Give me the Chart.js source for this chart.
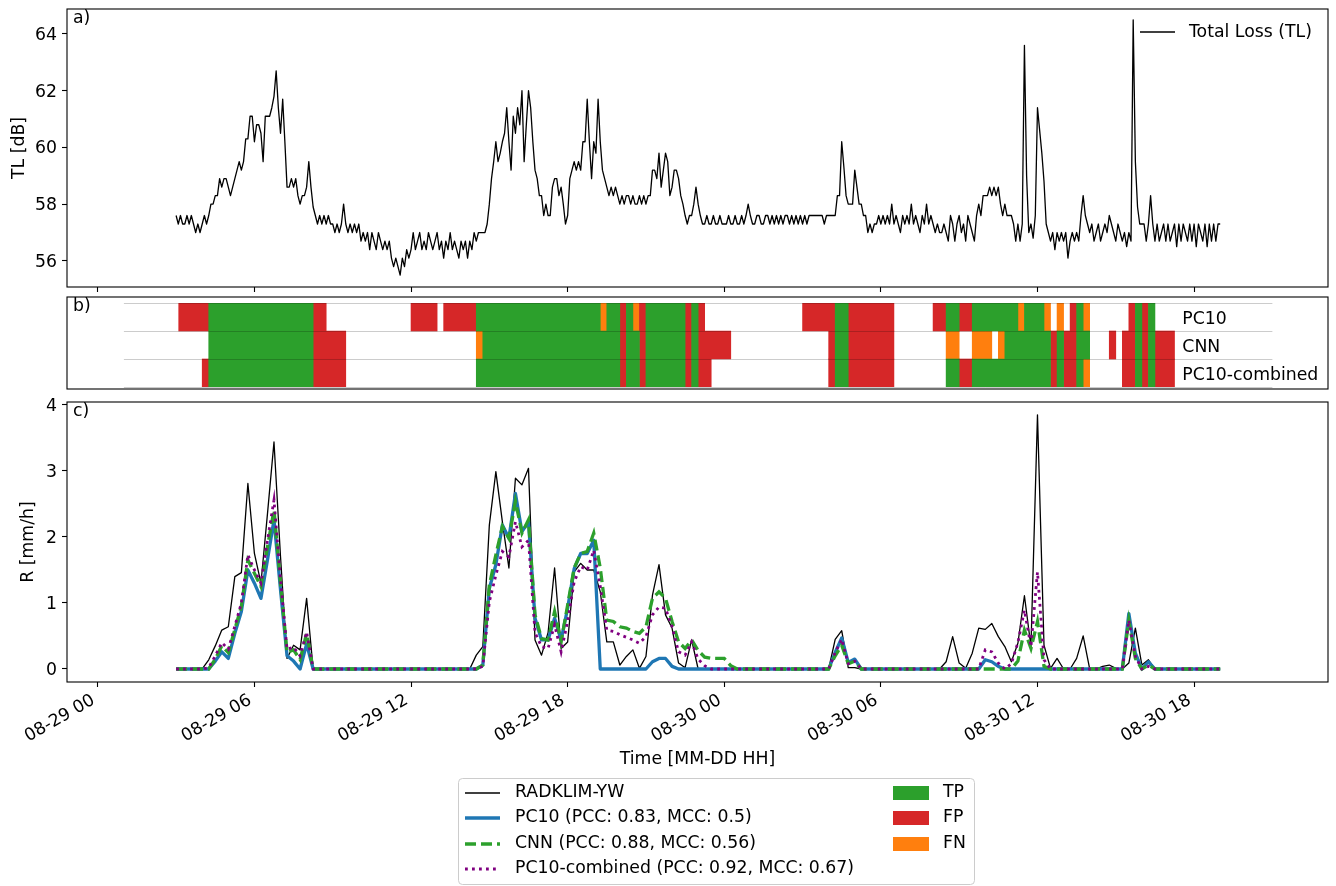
<!DOCTYPE html>
<html>
<head>
<meta charset="utf-8">
<title>TL, classification and rain rate</title>
<script src="https://cdn.jsdelivr.net/npm/chart.js@4.4.1/dist/chart.umd.min.js"></script>
<style>
  html, body { margin: 0; padding: 0; background: #fff; }
  #wrap { position: relative; width: 1336px; height: 886px; overflow: hidden; }
  #wrap canvas { position: absolute; left: 0; top: 0; }
  #chart-tl { top: -50px !important; }
</style>
</head>
<body>
<div id="wrap">
  <canvas id="chart-tl" width="1336" height="936"></canvas>
  <canvas id="chart-class" width="1336" height="886"></canvas>
  <canvas id="chart-rain" width="1336" height="886"></canvas>
</div>
<script>
// Hours since 08-29 00:00 on the shared time axis
const FONT = "'DejaVu Sans', sans-serif";
const FONT_SIZE = 17.3;

const xMin = -1.18;
const xMax = 47.13;
const xTickLabels = ["08-29 00", "08-29 06", "08-29 12", "08-29 18",
                     "08-30 00", "08-30 06", "08-30 12", "08-30 18"];

// a) total loss, 5 min samples starting 08-29 03:00
const tlStartHour = 3;
const tlStepMinutes = 5;
const totalLoss = [
  57.6, 57.3, 57.6, 57.3, 57.3, 57.6, 57.3, 57.6, 57.3, 57.0, 57.3, 57.0,
  57.3, 57.6, 57.3, 57.6, 58.0, 58.0, 58.3, 58.3, 58.9, 58.6, 58.9, 58.9,
  58.6, 58.3, 58.6, 58.9, 59.2, 59.5, 59.2, 59.5, 60.3, 60.3, 61.1, 61.1,
  60.2, 60.8, 60.8, 60.5, 59.5, 61.1, 61.1, 61.1, 61.4, 61.8, 62.7, 61.4,
  60.5, 61.7, 60.2, 58.6, 58.6, 58.9, 58.6, 58.9, 58.3, 58.0, 58.3, 58.3,
  58.6, 59.5, 58.6, 57.9, 57.6, 57.3, 57.6, 57.3, 57.6, 57.3, 57.6, 57.3,
  57.3, 57.0, 57.3, 57.0, 57.3, 58.0, 57.3, 57.0, 57.3, 57.0, 57.3, 57.0,
  57.3, 56.7, 57.0, 56.7, 57.0, 56.4, 57.0, 56.7, 56.4, 57.0, 56.7, 56.4,
  56.7, 56.4, 56.7, 56.1, 55.8, 56.1, 55.8, 55.5, 56.1, 55.8, 56.4, 56.1,
  56.4, 57.0, 56.4, 56.7, 57.0, 56.4, 56.7, 56.4, 57.0, 56.7, 56.4, 56.7,
  57.0, 56.4, 56.7, 56.1, 56.7, 56.4, 57.0, 56.4, 56.7, 56.4, 56.1, 56.7,
  56.4, 56.7, 56.1, 56.7, 56.4, 57.0, 56.7, 57.0, 57.0, 57.0, 57.0, 57.3,
  58.0, 58.9, 59.5, 60.2, 59.5, 59.8, 60.2, 60.5, 61.4, 60.2, 59.2, 61.1,
  60.5, 61.4, 60.8, 62.0, 59.5, 60.8, 62.0, 61.4, 60.2, 59.2, 58.9, 58.3,
  58.3, 57.6, 58.0, 57.6, 57.6, 58.6, 58.9, 58.9, 58.3, 58.6, 58.0, 57.3,
  57.6, 58.9, 59.2, 59.5, 59.2, 59.5, 59.2, 60.2, 60.2, 61.7, 60.2, 58.9,
  60.2, 59.8, 61.7, 60.2, 59.2, 58.9, 58.6, 58.3, 58.6, 58.3, 58.6, 58.3,
  58.0, 58.3, 58.0, 58.3, 58.3, 58.0, 58.3, 58.0, 58.0, 58.3, 58.0, 58.3,
  58.0, 58.3, 58.3, 59.2, 59.2, 58.9, 59.8, 58.6, 59.2, 59.8, 59.5, 58.3,
  58.6, 59.2, 59.2, 58.9, 58.3, 58.0, 57.6, 57.3, 57.6, 57.6, 58.0, 58.6,
  58.0, 57.6, 57.3, 57.3, 57.6, 57.3, 57.3, 57.6, 57.3, 57.3, 57.6, 57.3,
  57.3, 57.3, 57.6, 57.3, 57.3, 57.6, 57.3, 57.3, 57.6, 57.3, 57.6, 58.0,
  57.6, 57.3, 57.3, 57.6, 57.6, 57.3, 57.3, 57.6, 57.6, 57.3, 57.6, 57.3,
  57.6, 57.3, 57.6, 57.3, 57.6, 57.6, 57.3, 57.6, 57.3, 57.6, 57.3, 57.6,
  57.3, 57.6, 57.3, 57.6, 57.6, 57.6, 57.6, 57.6, 57.6, 57.6, 57.3, 57.6,
  57.6, 57.6, 57.6, 57.6, 58.3, 58.3, 60.2, 59.3, 58.3, 58.0, 58.0, 58.0,
  59.2, 58.6, 58.0, 58.0, 57.6, 57.6, 57.0, 57.3, 57.0, 57.3, 57.3, 57.6,
  57.3, 57.6, 57.3, 57.6, 57.3, 58.0, 57.3, 57.6, 57.3, 57.0, 57.6, 57.3,
  57.6, 57.3, 58.0, 57.3, 57.6, 57.3, 57.0, 57.6, 57.3, 58.0, 57.3, 57.6,
  57.3, 57.0, 57.3, 57.0, 57.0, 57.3, 57.0, 56.7, 57.6, 57.3, 56.7, 57.3,
  57.6, 57.0, 57.3, 56.7, 57.6, 57.3, 57.0, 56.7, 57.6, 58.0, 57.6, 58.3,
  58.3, 58.3, 58.6, 58.3, 58.6, 58.3, 58.6, 58.0, 57.6, 58.0, 57.6, 57.6,
  57.6, 57.3, 56.7, 57.3, 56.7, 57.3, 63.6, 59.0, 57.0, 57.3, 56.8, 57.6,
  61.4, 60.6, 59.8, 58.8, 57.3, 57.0, 56.7, 57.0, 56.4, 57.0, 56.7, 57.0,
  56.7, 57.0, 56.1, 56.7, 57.0, 56.7, 57.0, 56.7, 57.6, 58.3, 57.6, 57.3,
  57.0, 57.3, 56.7, 57.0, 57.3, 56.7, 57.0, 57.3, 57.0, 57.6, 57.3, 57.0,
  56.7, 57.3, 57.0, 56.7, 57.0, 56.5, 57.0, 56.7, 64.5, 59.5, 57.9, 57.3,
  57.3, 57.3, 56.7, 57.3, 58.3, 57.3, 56.7, 57.3, 56.7, 57.0, 57.3, 56.7,
  57.3, 56.7, 57.0, 57.3, 56.5, 57.3, 56.7, 57.3, 57.0, 56.7, 57.3, 56.7,
  57.3, 56.5, 57.3, 57.0, 56.7, 57.3, 56.5, 57.3, 56.7, 57.3, 56.7, 57.3,
  57.3
];

// c) rain rates, 15 min samples starting 08-29 03:00 (one row = one hour)
const rainStartHour = 3;
const rainStepMinutes = 15;
const radklim = [
  0, 0, 0, 0,           0, 0.14, 0.35, 0.59,   0.64, 1.40, 1.46, 2.81,
  1.75, 1.30, 2.35, 3.44, 1.70, 0.16, 0.36, 0.29, 1.07, 0, 0, 0,
  0, 0, 0, 0,           0, 0, 0, 0,           0, 0, 0, 0,
  0, 0, 0, 0,           0, 0, 0, 0,           0, 0, 0.21, 0.34,
  2.18, 2.99, 2.23, 1.53, 2.89, 2.79, 3.04, 0.44, 0.21, 0.55, 1.53, 0.31,
  0.41, 1.47, 1.60, 1.50, 1.50, 1.17, 0.41, 0.41, 0.06, 0.19, 0.29, 0.01,
  0.19, 1.12, 1.58, 0.82, 0.62, 0.09, 0.02, 0.44, 0, 0, 0, 0,
  0, 0, 0, 0,           0, 0, 0, 0,           0, 0, 0, 0,
  0, 0, 0, 0,           0, 0.45, 0.58, 0.02,   0.02, 0, 0, 0,
  0, 0, 0, 0,           0, 0, 0, 0,           0, 0, 0.11, 0.49,
  0.09, 0.01, 0.24, 0.62, 0.60, 0.69, 0.49, 0.34, 0.11, 0.39, 1.11, 0.34,
  3.85, 0.36, 0.01, 0.16, 0, 0, 0.16, 0.50,   0, 0, 0.04, 0.06,
  0.01, 0, 0.09, 0.62,  0.06, 0.14, 0, 0,     0, 0, 0, 0,
  0, 0, 0, 0,
  0
];
const pc10Rain = [
  0, 0, 0, 0,           0, 0, 0.12, 0.26,     0.16, 0.54, 0.87, 1.50,
  1.30, 1.07, 1.65, 2.26, 1.20, 0.20, 0.12, 0, 0.38, 0, 0, 0,
  0, 0, 0, 0,           0, 0, 0, 0,           0, 0, 0, 0,
  0, 0, 0, 0,           0, 0, 0, 0,           0, 0, 0, 0.06,
  1.22, 1.58, 2.18, 1.98, 2.66, 2.08, 2.23, 0.77, 0.44, 0.44, 0.77, 0.44,
  0.92, 1.52, 1.75, 1.75, 1.95, 0, 0, 0,     0, 0, 0, 0,
  0, 0.11, 0.16, 0.16,  0.04, 0, 0, 0,        0, 0, 0, 0,
  0, 0, 0, 0,           0, 0, 0, 0,           0, 0, 0, 0,
  0, 0, 0, 0,           0, 0.25, 0.47, 0.10,  0.15, 0, 0, 0,
  0, 0, 0, 0,           0, 0, 0, 0,           0, 0, 0, 0,
  0, 0, 0, 0,           0.14, 0.11, 0.04, 0,  0, 0, 0, 0,
  0, 0, 0, 0,           0, 0, 0, 0,           0, 0, 0, 0,
  0, 0, 0.84, 0.24,     0, 0.11, 0, 0,        0, 0, 0, 0,
  0, 0, 0, 0,
  0
];
const cnnRain = [
  0, 0, 0, 0,           0, 0, 0.15, 0.35,     0.25, 0.60, 0.95, 1.65,
  1.45, 1.25, 1.85, 2.41, 1.30, 0.25, 0.29, 0.14, 0.54, 0, 0, 0,
  0, 0, 0, 0,           0, 0, 0, 0,           0, 0, 0, 0,
  0, 0, 0, 0,           0, 0, 0, 0,           0, 0, 0, 0.06,
  1.27, 1.73, 2.16, 1.98, 2.54, 2.06, 2.26, 0.82, 0.46, 0.44, 0.87, 0.41,
  0.97, 1.53, 1.75, 1.78, 2.06, 1.53, 0.74, 0.72, 0.64, 0.62, 0.57, 0.54,
  0.64, 1.07, 1.17, 1.07, 0.72, 0.41, 0.31, 0.44, 0.28, 0.18, 0.16, 0.16,
  0.16, 0.05, 0, 0,     0, 0, 0, 0,           0, 0, 0, 0,
  0, 0, 0, 0,           0, 0.20, 0.36, 0.08,  0.12, 0, 0, 0,
  0, 0, 0, 0,           0, 0, 0, 0,           0, 0, 0, 0,
  0, 0, 0, 0,           0, 0, 0, 0,           0, 0.12, 0.59, 0.31,
  0.72, 0.04, 0, 0,     0, 0, 0, 0,           0, 0, 0, 0,
  0, 0, 0.74, 0.16,     0, 0.06, 0, 0,        0, 0, 0, 0,
  0, 0, 0, 0,
  0
];
const combinedRain = [
  0, 0, 0, 0,           0, 0.02, 0.20, 0.40,  0.30, 0.65, 1.00, 1.73,
  1.50, 1.30, 1.95, 2.56, 1.35, 0.30, 0.33, 0.20, 0.56, 0, 0, 0,
  0, 0, 0, 0,           0, 0, 0, 0,           0, 0, 0, 0,
  0, 0, 0, 0,           0, 0, 0, 0,           0, 0, 0, 0.04,
  1.02, 1.42, 1.78, 1.70, 2.23, 1.85, 1.95, 0.55, 0.34, 0.31, 0.67, 0.26,
  0.72, 1.32, 1.55, 1.50, 1.80, 1.25, 0.59, 0.57, 0.52, 0.48, 0.44, 0.39,
  0.49, 0.82, 0.94, 0.92, 0.64, 0.26, 0.21, 0.41, 0.15, 0.05, 0, 0,
  0, 0, 0, 0,           0, 0, 0, 0,           0, 0, 0, 0,
  0, 0, 0, 0,           0, 0.25, 0.45, 0.08,  0.12, 0, 0, 0,
  0, 0, 0, 0,           0, 0, 0, 0,           0, 0, 0, 0,
  0, 0, 0, 0,           0.29, 0.26, 0.09, 0,  0.08, 0.40, 0.89, 0.34,
  1.47, 0.14, 0, 0,     0, 0, 0, 0,           0, 0, 0, 0,
  0, 0, 0.74, 0.19,     0, 0.04, 0, 0,        0, 0, 0, 0,
  0, 0, 0, 0,
  0
];

// b) wet/dry classification intervals [start hour, end hour, class]
const classRows = ["PC10", "CNN", "PC10-combined"];
const pc10Classes = [
  [3.1, 4.25, "FP"], [4.25, 8.25, "TP"], [8.25, 8.75, "FP"],
  [12.0, 13.0, "FP"], [13.25, 14.5, "FP"], [14.5, 19.25, "TP"],
  [19.25, 19.5, "FN"], [19.5, 20.0, "TP"], [20.0, 20.25, "FP"],
  [20.25, 20.5, "TP"], [20.5, 20.75, "FN"], [20.75, 21.0, "FP"],
  [21.0, 22.5, "TP"], [22.5, 22.75, "FP"], [22.75, 23.0, "TP"],
  [23.0, 23.25, "FP"], [27.0, 28.25, "FP"], [28.25, 28.75, "TP"],
  [28.75, 30.5, "FP"], [32.0, 32.5, "FP"], [32.5, 33.0, "TP"],
  [33.0, 33.5, "FP"], [33.5, 35.25, "TP"], [35.25, 35.5, "FN"],
  [35.5, 36.25, "TP"], [36.25, 36.5, "FN"], [36.75, 37.0, "FN"],
  [37.25, 37.5, "FP"], [37.5, 37.75, "TP"], [37.75, 38.0, "FN"],
  [39.5, 39.75, "FP"], [39.75, 40.0, "TP"], [40.0, 40.25, "FP"],
  [40.25, 40.5, "TP"]
];
const cnnClasses = [
  [4.25, 8.25, "TP"], [8.25, 9.5, "FP"], [14.5, 14.75, "FN"],
  [14.75, 20.0, "TP"], [20.0, 20.25, "FP"], [20.25, 20.75, "TP"],
  [20.75, 21.0, "FP"], [21.0, 22.5, "TP"], [22.5, 22.75, "FP"],
  [22.75, 23.0, "TP"], [23.0, 24.25, "FP"], [28.0, 28.25, "FP"],
  [28.25, 28.75, "TP"], [28.75, 30.5, "FP"], [32.5, 33.0, "FN"],
  [33.5, 34.25, "FN"], [34.5, 34.75, "FN"], [34.75, 36.5, "TP"],
  [36.5, 36.75, "FP"], [36.75, 37.0, "TP"], [37.0, 37.5, "FP"],
  [37.5, 38.0, "TP"], [38.75, 39.0, "FP"], [39.25, 39.75, "FP"],
  [39.75, 40.0, "TP"], [40.0, 40.25, "FP"], [40.25, 40.5, "TP"],
  [40.5, 41.25, "FP"]
];
const combinedClasses = [
  [4.0, 4.25, "FP"], [4.25, 8.25, "TP"], [8.25, 9.5, "FP"],
  [14.5, 20.0, "TP"], [20.0, 20.25, "FP"], [20.25, 20.75, "TP"],
  [20.75, 21.0, "FP"], [21.0, 22.5, "TP"], [22.5, 22.75, "FP"],
  [22.75, 23.0, "TP"], [23.0, 23.5, "FP"], [28.0, 28.25, "FP"],
  [28.25, 28.75, "TP"], [28.75, 30.5, "FP"], [32.5, 33.0, "TP"],
  [33.0, 33.5, "FP"], [33.5, 36.5, "TP"], [36.5, 36.75, "FP"],
  [36.75, 37.0, "TP"], [37.0, 37.5, "FP"], [37.5, 37.75, "TP"],
  [37.75, 38.0, "FN"], [39.25, 39.75, "FP"], [39.75, 40.0, "TP"],
  [40.0, 40.25, "FP"], [40.25, 40.5, "TP"], [40.5, 41.25, "FP"]
];
const classNames = ["TP", "FP", "FN"];
const classColors = { TP: "#2ca02c", FP: "#d62728", FN: "#ff7f0e" };

const rainLabels = [
  "RADKLIM-YW",
  "PC10 (PCC: 0.83, MCC: 0.5)",
  "CNN (PCC: 0.88, MCC: 0.56)",
  "PC10-combined (PCC: 0.92, MCC: 0.67)"
];

Chart.defaults.font.family = FONT;
Chart.defaults.font.size = FONT_SIZE;
Chart.defaults.color = "#000";

function toPoints(values, startHour, stepMinutes) {
  return values.map((v, i) => ({ x: startHour + (i * stepMinutes) / 60, y: v }));
}

function timeAxis() {
  return {
    type: "linear",
    min: xMin,
    max: xMax,
    ticks: { stepSize: 6, includeBounds: false, display: false },
    grid: { drawOnChartArea: false, drawTicks: true, tickLength: 5, tickColor: "#000", tickWidth: 1.1 },
    border: { display: false },
    afterFit: (scale) => { scale.height = 10; },
  };
}

function valueAxis(min, max) {
  return {
    min: min,
    max: max,
    ticks: { stepSize: min < 0 ? 1 : 2, includeBounds: false, color: "#000", padding: 5, labelOffset: 1.5 },
    grid: { drawOnChartArea: false, drawTicks: true, tickLength: 5, tickColor: "#000", tickWidth: 1.1 },
    border: { display: false },
    afterFit: (scale) => { scale.width = 67; },
  };
}

function drawFrame(ctx, left, top, right, bottom) {
  ctx.save();
  ctx.strokeStyle = "#000";
  ctx.lineWidth = 1.1;
  ctx.strokeRect(left, top, right - left, bottom - top);
  ctx.restore();
}

function drawVerticalTitle(ctx, text, x, y) {
  ctx.save();
  ctx.translate(x, y);
  ctx.rotate(-Math.PI / 2);
  ctx.textAlign = "center";
  ctx.textBaseline = "middle";
  ctx.fillText(text, 0, 0);
  ctx.restore();
}

const baseOptions = {
  responsive: false,
  animation: false,
  devicePixelRatio: 1,
  events: [],
  plugins: { legend: { display: false }, tooltip: { enabled: false } },
};

// ---------- a) total loss ----------
// this canvas sits 50px above the page top so the top tick label never pushes the plot down
const tlDecor = {
  id: "tlDecor",
  afterDraw(chart) {
    const { ctx, chartArea: a } = chart;
    drawFrame(ctx, a.left, a.top, a.right, a.bottom);
    ctx.save();
    ctx.fillStyle = "#000";
    ctx.font = `${FONT_SIZE}px ${FONT}`;
    ctx.textBaseline = "middle";
    ctx.fillText("a)", a.left + 6, a.top + 10);
    ctx.strokeStyle = "#000";
    ctx.lineWidth = 1.3;
    ctx.beginPath();
    ctx.moveTo(a.right - 188, a.top + 23);
    ctx.lineTo(a.right - 153, a.top + 23);
    ctx.stroke();
    ctx.fillText("Total Loss (TL)", a.right - 139, a.top + 24);
    drawVerticalTitle(ctx, "TL [dB]", 20, (a.top + a.bottom) / 2);
    ctx.restore();
  },
};

new Chart(document.getElementById("chart-tl"), {
  type: "line",
  data: {
    datasets: [{
      label: "Total Loss (TL)",
      data: toPoints(totalLoss, tlStartHour, tlStepMinutes),
      borderColor: "#000",
      borderWidth: 1.3,
      borderJoinStyle: "round",
      pointRadius: 0,
      tension: 0,
    }],
  },
  options: {
    ...baseOptions,
    layout: { padding: { top: 59, right: 8, bottom: 589, left: 0 } },
    scales: { x: timeAxis(), y: valueAxis(55.08, 64.88) },
  },
  plugins: [tlDecor],
});

// ---------- b) classification ----------
const classSets = [pc10Classes, cnnClasses, combinedClasses];
const classDatasets = classNames.map((name) => {
  const data = [];
  classSets.forEach((segments, row) => {
    segments.forEach(([start, end, cls]) => {
      if (cls === name) data.push({ x: [start, end], y: classRows[row] });
    });
  });
  return {
    label: name,
    data: data,
    backgroundColor: classColors[name],
    borderWidth: 0,
    barPercentage: 1,
    categoryPercentage: 1,
    grouped: false,
  };
});

const classDecor = {
  id: "classDecor",
  afterDatasetsDraw(chart) {
    const { ctx, chartArea: a } = chart;
    const xs = chart.scales.x;
    const rowH = (a.bottom - a.top) / classRows.length;
    ctx.save();
    ctx.strokeStyle = "rgba(0,0,0,0.2)";
    ctx.lineWidth = 1;
    for (let k = 0; k <= classRows.length; k += 1) {
      const y = Math.round(a.top + k * rowH) + 0.5;
      ctx.beginPath();
      ctx.moveTo(xs.getPixelForValue(1), y);
      ctx.lineTo(xs.getPixelForValue(45), y);
      ctx.stroke();
    }
    ctx.restore();
  },
  afterDraw(chart) {
    const { ctx, chartArea: a } = chart;
    const xs = chart.scales.x;
    const rowH = (a.bottom - a.top) / classRows.length;
    drawFrame(ctx, a.left, a.top - 6, a.right, a.bottom + 2);
    ctx.save();
    ctx.fillStyle = "#000";
    ctx.font = `${FONT_SIZE}px ${FONT}`;
    ctx.textBaseline = "middle";
    ctx.fillText("b)", a.left + 6, a.top + 4);
    classRows.forEach((name, i) => {
      ctx.fillText(name, xs.getPixelForValue(41.55), a.top + (i + 0.5) * rowH + 3);
    });
    ctx.restore();
  },
};

new Chart(document.getElementById("chart-class"), {
  type: "bar",
  data: { labels: classRows, datasets: classDatasets },
  options: {
    ...baseOptions,
    indexAxis: "y",
    layout: { padding: { top: 303, right: 8, bottom: 499, left: 67 } },
    scales: {
      x: { type: "linear", min: xMin, max: xMax, display: false },
      y: { type: "category", labels: classRows, offset: true, display: false },
    },
  },
  plugins: [classDecor],
});

// ---------- c) rain rate ----------
const rainDecor = {
  id: "rainDecor",
  afterDraw(chart) {
    const { ctx, chartArea: a } = chart;
    const xs = chart.scales.x;
    drawFrame(ctx, a.left, a.top, a.right, a.bottom);
    ctx.save();
    ctx.fillStyle = "#000";
    ctx.font = `${FONT_SIZE}px ${FONT}`;
    ctx.textBaseline = "middle";
    ctx.fillText("c)", a.left + 6, a.top + 10);
    drawVerticalTitle(ctx, "R [mm/h]", 29, (a.top + a.bottom) / 2);

    // rotated date tick labels
    xs.ticks.forEach((t, i) => {
      const px = xs.getPixelForValue(t.value);
      ctx.save();
      ctx.translate(px - 2, a.bottom + 21);
      ctx.rotate(-Math.PI / 6);
      ctx.textAlign = "right";
      ctx.textBaseline = "alphabetic";
      ctx.fillText(xTickLabels[i], 0, 0);
      ctx.restore();
    });
    ctx.textAlign = "center";
    ctx.fillText("Time [MM-DD HH]", (a.left + a.right) / 2, 760);

    // legend
    const box = { x: 458.5, y: 778.5, w: 516, h: 106 };
    ctx.beginPath();
    if (ctx.roundRect) ctx.roundRect(box.x, box.y, box.w, box.h, 4);
    else ctx.rect(box.x, box.y, box.w, box.h);
    ctx.fillStyle = "rgba(255,255,255,0.8)";
    ctx.fill();
    ctx.strokeStyle = "#cccccc";
    ctx.lineWidth = 1;
    ctx.stroke();

    const rows = [793, 818, 844, 869];
    ctx.textAlign = "left";
    chart.data.datasets.forEach((ds, i) => {
      ctx.save();
      ctx.strokeStyle = ds.borderColor;
      ctx.lineWidth = ds.borderWidth;
      ctx.setLineDash(ds.borderDash || []);
      ctx.beginPath();
      ctx.moveTo(465, rows[i]);
      ctx.lineTo(500, rows[i]);
      ctx.stroke();
      ctx.restore();
      ctx.fillStyle = "#000";
      ctx.fillText(ds.label, 515, rows[i]);
    });
    classNames.forEach((name, i) => {
      ctx.fillStyle = classColors[name];
      ctx.fillRect(893, rows[i] - 7, 36, 14);
      ctx.fillStyle = "#000";
      ctx.fillText(name, 943, rows[i]);
    });
    ctx.restore();
  },
};

new Chart(document.getElementById("chart-rain"), {
  type: "line",
  data: {
    datasets: [
      {
        label: rainLabels[0],
        data: toPoints(radklim, rainStartHour, rainStepMinutes),
        borderColor: "#000",
        borderWidth: 1.3,
        borderJoinStyle: "round",
        order: 4,
      },
      {
        label: rainLabels[1],
        data: toPoints(pc10Rain, rainStartHour, rainStepMinutes),
        borderColor: "#1f77b4",
        borderWidth: 3.3,
        borderJoinStyle: "round",
        order: 3,
      },
      {
        label: rainLabels[2],
        data: toPoints(cnnRain, rainStartHour, rainStepMinutes),
        borderColor: "#2ca02c",
        borderWidth: 3.3,
        borderDash: [11, 5],
        order: 2,
      },
      {
        label: rainLabels[3],
        data: toPoints(combinedRain, rainStartHour, rainStepMinutes),
        borderColor: "#800080",
        borderWidth: 2.8,
        borderDash: [2.8, 4.2],
        order: 1,
      },
    ],
  },
  options: {
    ...baseOptions,
    elements: { point: { radius: 0 }, line: { tension: 0 } },
    layout: { padding: { top: 402, right: 8, bottom: 194, left: 0 } },
    scales: { x: timeAxis(), y: valueAxis(-0.197, 4.045) },
  },
  plugins: [rainDecor],
});
</script>
</body>
</html>
